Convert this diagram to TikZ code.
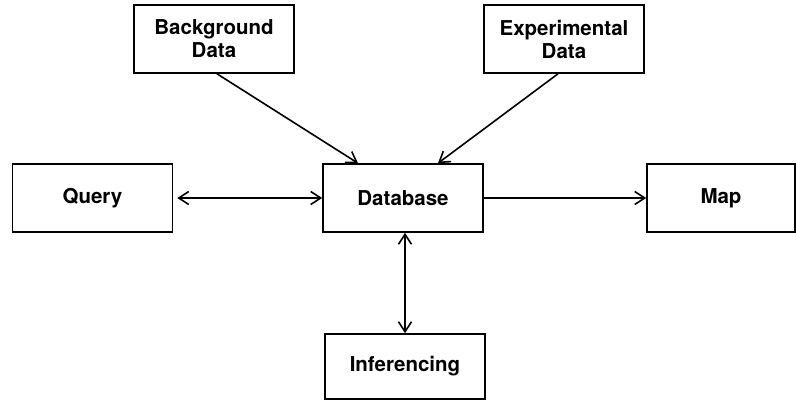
\documentclass[tikz,border=0pt]{standalone}
\usepackage{fontspec}
\setmainfont{TeX Gyre Heros}
\usetikzlibrary{arrows.meta}
\begin{document}
\begin{tikzpicture}[x=1pt,y=-1pt,
  box/.style={draw,line width=1.6pt,align=center,inner sep=0pt,minimum width=160pt,minimum height=68pt,font=\fontsize{20.5}{23}\selectfont\bfseries},
  conn/.style={line width=1.6pt,{Straight Barb[length=10pt,width=13pt,line width=1.6pt]}-{Straight Barb[length=10pt,width=13pt,line width=1.6pt]}},
  oneway/.style={line width=1.6pt,-{Straight Barb[length=10pt,width=13pt,line width=1.6pt]}}]
\useasboundingbox (0,0) rectangle (796,400);
\node[box] (bg) at (214,39) {Background\\Data};
\node[box] (ex) at (564,39) {Experimental\\Data};
\node[box] (q) at (92.5,198) {Query};
\node[box] (db) at (403,198) {Database};
\node[box,minimum width=148pt] (map) at (721,198) {Map};
\node[box,minimum height=65pt] (inf) at (405,366.5) {Inferencing};
\draw[oneway] ([xshift=3pt]bg.south) -- ([xshift=-45pt]db.north);
\draw[oneway] ([xshift=-6pt]ex.south) -- ([xshift=35pt]db.north);
\draw[conn] ([xshift=4pt]q.east) -- (db.west);
\draw[oneway] (db.east) -- (map.west);
\draw[conn] ([xshift=2pt]db.south) -- (inf.north);
\end{tikzpicture}
\end{document}
